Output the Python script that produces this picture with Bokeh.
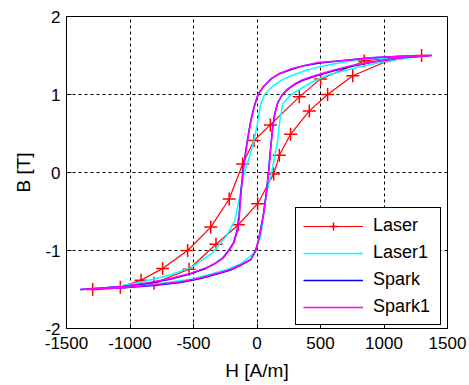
from bokeh.plotting import figure
from bokeh.models import Legend, LegendItem, FixedTicker, Range1d
from bokeh.embed import file_html
from bokeh.resources import INLINE

# ---------------- data ----------------
x_ticks = [-1500, -1000, -500, 0, 500, 1000, 1500]
x_tick_labels = ["-1500", "-1000", "-500", "0", "500", "1000", "1500"]
y_ticks = [-2, -1, 0, 1, 2]
y_tick_labels = ["-2", "-1", "0", "1", "2"]

series_names = ["Laser", "Laser1", "Spark", "Spark1"]

# Laser: line (descending branch then ascending branch)
laser_H = [1296, 1100, 845, 501, 333, 105, -23, -113, -219, -364, -546, -743, -913, -1076, -1294,
           -1000, -811, -535, -323, -147, 5, 131, 176, 264, 412, 556, 754, 1000, 1150, 1296]
laser_B = [1.50, 1.48, 1.43, 1.20, 0.97, 0.61, 0.41, 0.11, -0.34, -0.70, -1.00, -1.23, -1.38, -1.47, -1.50,
           -1.46, -1.42, -1.24, -0.92, -0.67, -0.40, -0.02, 0.22, 0.49, 0.79, 1.00, 1.24, 1.41, 1.47, 1.50]
# Laser: marker positions
laser_mark_H = [1296, 845, 501, 333, 105, -23, -113, -219, -364, -546, -743, -913, -1076, -1294,
                -811, -535, -323, -147, 5, 131, 176, 264, 412, 556, 754]
laser_mark_B = [1.50, 1.43, 1.20, 0.97, 0.61, 0.41, 0.11, -0.34, -0.70, -1.00, -1.23, -1.38, -1.47, -1.50,
                -1.42, -1.24, -0.92, -0.67, -0.40, -0.02, 0.22, 0.49, 0.79, 1.00, 1.24]

# Laser1
laser1_H = [1300, 1050, 800, 530, 390, 300, 200, 120, 60, 30, 0, -25, -60, -100, -135, -175, -240, -350,
            -520, -700, -900, -1100, -1250,
            -1000, -750, -520, -362, -230, -126, -21, 31, 55, 70, 115, 163, 176, 202, 270, 420, 560, 793,
            1055, 1300]
laser1_B = [1.49, 1.47, 1.45, 1.37, 1.31, 1.26, 1.19, 1.10, 1.00, 0.88, 0.60, 0.40, 0.20, 0.00, -0.30, -0.62,
            -0.81, -1.03, -1.22, -1.32, -1.40, -1.46, -1.49,
            -1.46, -1.42, -1.37, -1.30, -1.24, -1.17, -1.03, -0.81, -0.50, -0.30, 0.00, 0.41, 0.62, 0.88,
            1.00, 1.15, 1.25, 1.35, 1.44, 1.49]

# Spark
spark_H = [1375, 1130, 900, 640, 480, 370, 270, 180, 110, 50, 8, -22, -47, -67, -82, -97, -112, -124, -134,
           -142, -158, -184, -224, -266, -334, -404, -524, -684, -854, -1054, -1392,
           -1075, -812, -603, -444, -286, -208, -129, -50, -12, 13, 33, 53, 68, 80, 93, 103, 113, 123, 138,
           162, 197, 237, 297, 357, 449, 598, 738, 922, 1131, 1375]
spark_B = [1.50, 1.49, 1.47, 1.43, 1.40, 1.37, 1.32, 1.27, 1.20, 1.10, 1.00, 0.85, 0.68, 0.50, 0.35, 0.18,
           0.00, -0.20, -0.40, -0.58, -0.75, -0.90, -1.00, -1.09, -1.17, -1.23, -1.30, -1.37, -1.42, -1.46,
           -1.50,
           -1.48, -1.45, -1.41, -1.36, -1.29, -1.25, -1.19, -1.12, -1.01, -0.86, -0.69, -0.51, -0.33, -0.16,
           0.04, 0.24, 0.41, 0.57, 0.74, 0.89, 0.99, 1.06, 1.13, 1.18, 1.23, 1.30, 1.36, 1.42, 1.47, 1.50]

# Spark1
spark1_H = [1370, 1130, 900, 640, 480, 370, 270, 180, 110, 50, 10, -20, -45, -65, -80, -95, -110, -122, -132,
            -140, -155, -180, -220, -262, -330, -400, -520, -680, -850, -1050, -1386,
            -1071, -809, -600, -441, -283, -205, -126, -47, -10, 15, 35, 55, 70, 82, 95, 105, 115, 125, 140,
            165, 200, 240, 300, 360, 451, 600, 740, 924, 1133, 1370]
spark1_B = [1.50, 1.49, 1.47, 1.43, 1.41, 1.37, 1.33, 1.27, 1.20, 1.10, 1.00, 0.85, 0.68, 0.50, 0.35, 0.18,
            0.00, -0.20, -0.40, -0.58, -0.75, -0.90, -1.00, -1.09, -1.17, -1.22, -1.29, -1.36, -1.41, -1.46,
            -1.50,
            -1.48, -1.44, -1.40, -1.35, -1.28, -1.24, -1.18, -1.11, -1.00, -0.85, -0.68, -0.50, -0.32, -0.15,
            0.05, 0.25, 0.42, 0.58, 0.75, 0.90, 1.00, 1.07, 1.14, 1.19, 1.24, 1.31, 1.37, 1.42, 1.47, 1.50]

colors = ["#FF0000", "#00FFFF", "#0000FF", "#FF00FF"]

# ---------------- figure ----------------
FONT = "Liberation Sans"

p = figure(width=469, height=385,
           x_range=Range1d(-1500, 1500), y_range=Range1d(-2, 2),
           output_backend="svg", toolbar_location=None,
           min_border_left=66, min_border_right=22, min_border_top=16, min_border_bottom=57,
           background_fill_color="white", border_fill_color="white")

p.outline_line_color = "black"
p.outline_line_width = 1
p.outline_line_alpha = 1

for ax in (p.xaxis[0], p.yaxis[0]):
    ax.major_tick_in = 5
    ax.major_tick_out = 0
    ax.minor_tick_in = 0
    ax.minor_tick_out = 0
    ax.axis_line_color = "black"
    ax.major_tick_line_color = "black"
    ax.major_label_text_font = FONT
    ax.major_label_text_font_size = "17px"
    ax.major_label_text_color = "black"
    ax.axis_label_text_font = FONT
    ax.axis_label_text_font_size = "19px"
    ax.axis_label_text_font_style = "normal"
    ax.axis_label_text_color = "black"

p.xaxis.ticker = FixedTicker(ticks=x_ticks)
p.yaxis.ticker = FixedTicker(ticks=y_ticks)
p.xaxis.major_label_overrides = {t: l for t, l in zip(x_ticks, x_tick_labels)}
p.yaxis.major_label_overrides = {t: l for t, l in zip(y_ticks, y_tick_labels)}
p.xaxis.axis_label = "H [A/m]"
p.yaxis.axis_label = "B [T]"
p.xaxis.major_label_standoff = 8
p.yaxis.major_label_standoff = 6
p.xaxis.axis_label_standoff = 8
p.yaxis.axis_label_standoff = 8

for g in (p.xgrid[0], p.ygrid[0]):
    g.grid_line_color = "black"
    g.grid_line_dash = "3 3"
    g.grid_line_width = 1
    g.grid_line_alpha = 1.0

r_laser = p.line(laser_H, laser_B, line_color=colors[0], line_width=1.2)
r_laser_m = p.scatter(laser_mark_H, laser_mark_B, marker="cross", size=13,
                      line_color=colors[0], line_width=1.5)
r_laser1 = p.line(laser1_H, laser1_B, line_color=colors[1], line_width=1.5)
r_spark = p.line(spark_H, spark_B, line_color=colors[2], line_width=1.5)
r_spark1 = p.line(spark1_H, spark1_B, line_color=colors[3], line_width=1.5)

legend = Legend(items=[
    LegendItem(label=series_names[0], renderers=[r_laser, r_laser_m]),
    LegendItem(label=series_names[1], renderers=[r_laser1]),
    LegendItem(label=series_names[2], renderers=[r_spark]),
    LegendItem(label=series_names[3], renderers=[r_spark1]),
], location=(229, 3))
legend.label_text_font = FONT
legend.label_text_font_size = "18px"
legend.label_text_color = "black"
legend.border_line_color = "black"
legend.border_line_width = 1
legend.border_line_alpha = 1
legend.background_fill_color = "white"
legend.background_fill_alpha = 1
legend.padding = 7
legend.spacing = 6
legend.margin = 0
legend.glyph_width = 60
legend.glyph_height = 20
legend.label_height = 20
legend.label_width = 60
legend.label_standoff = 10
p.add_layout(legend, "center")

open("out.html", "w").write(file_html(p, INLINE))
